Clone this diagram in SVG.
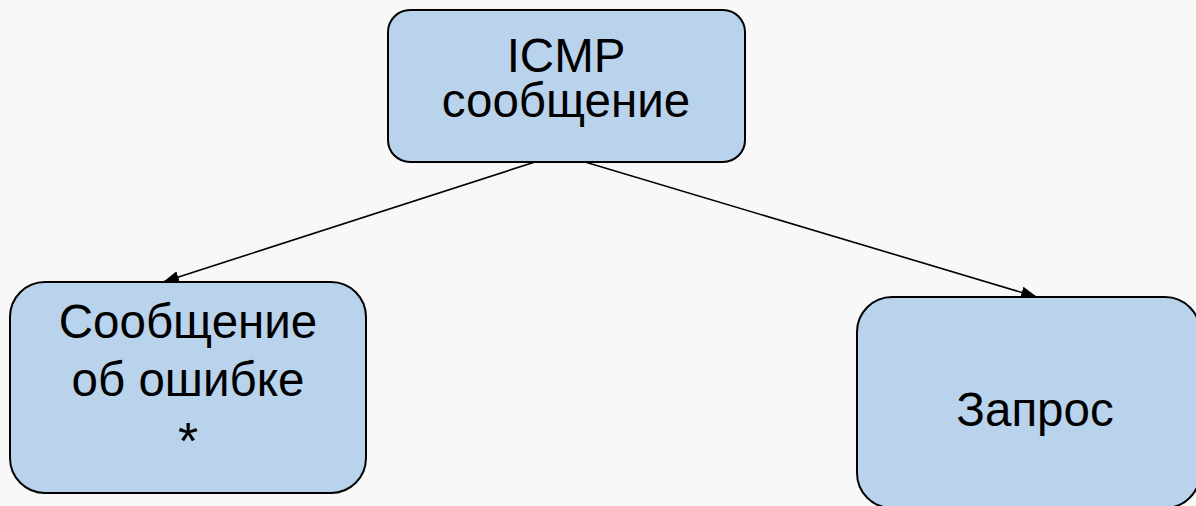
<svg xmlns="http://www.w3.org/2000/svg" width="1196" height="506" viewBox="0 0 1196 506">
<defs>
<style>
.box{fill:#b9d3ec;stroke:#000;stroke-width:2}
.lbl{font-family:"Liberation Sans",Arial,sans-serif;font-size:47.5px;fill:#000;text-anchor:middle}
.conn{stroke:#000;stroke-width:1.6;fill:none}
</style>
<marker id="arrow" viewBox="0 0 16 12" refX="16" refY="6" markerWidth="16" markerHeight="12" markerUnits="userSpaceOnUse" orient="auto">
<path d="M0,0 L16,6 L0,12 z" fill="#000"/>
</marker>
</defs>
<rect width="1196" height="506" fill="#f8f8f8"/>
<g id="connectors">
<line class="conn" x1="535" y1="162" x2="163" y2="282" marker-end="url(#arrow)"/>
<line class="conn" x1="585" y1="162" x2="1037" y2="297" marker-end="url(#arrow)"/>
</g>
<g id="node-icmp">
<rect class="box" x="388" y="10" width="357" height="152" rx="22" ry="22"/>
<text class="lbl" x="566" y="72">ICMP</text>
<text class="lbl" x="566" y="117">сообщение</text>
</g>
<g id="node-error">
<rect class="box" x="10" y="282" width="356" height="211" rx="35" ry="35"/>
<text class="lbl" x="188" y="338">Сообщение</text>
<text class="lbl" x="188" y="396">об ошибке</text>
<text class="lbl" x="188" y="459" style="font-size:52px">*</text>
</g>
<g id="node-request">
<rect class="box" x="857" y="297" width="343" height="211" rx="35" ry="35"/>
<text class="lbl" x="1035" y="426">Запрос</text>
</g>
</svg>
